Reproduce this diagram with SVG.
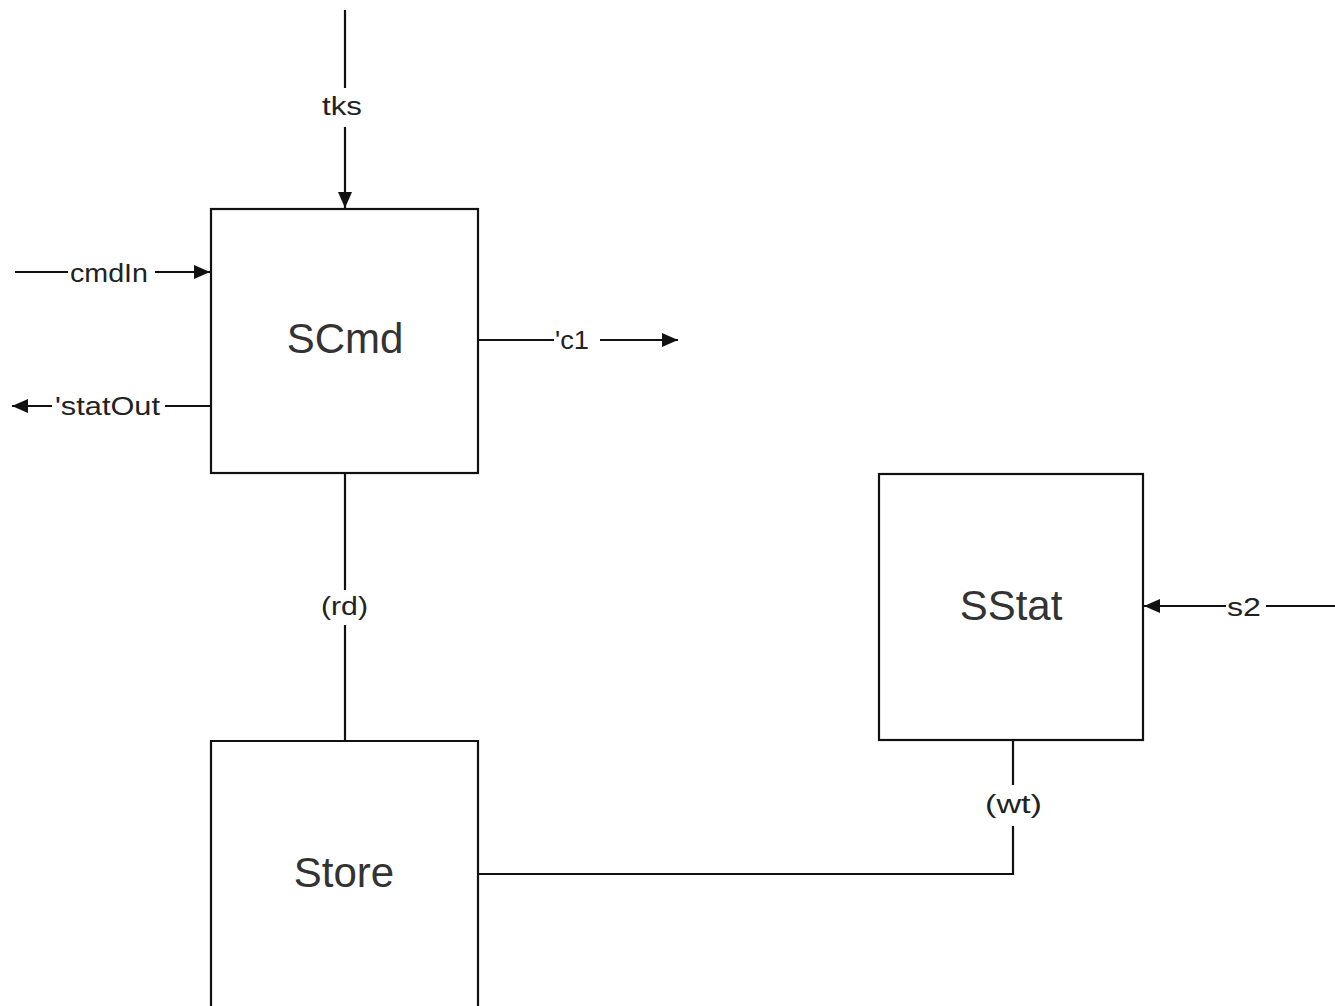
<svg xmlns="http://www.w3.org/2000/svg" width="1335" height="1006" viewBox="0 0 1335 1006">
<style>
.box{fill:#fff;stroke:#111;stroke-width:2.2}
.ln{stroke:#111;stroke-width:2.2;fill:none}
.big{font-family:"Liberation Sans",Arial,sans-serif;font-size:42px;fill:#333;text-anchor:middle}
.lbl{font-family:"Liberation Sans",Arial,sans-serif;font-size:25px;fill:#222}
</style>
<defs>
<marker id="ah" markerUnits="userSpaceOnUse" markerWidth="20" markerHeight="16" refX="18" refY="7" orient="auto">
<path d="M2,0 L18,7 L2,14 Z" fill="#111"/>
</marker>
</defs>
<rect width="1335" height="1006" fill="#fff"/>
<g id="connectors">
<line class="ln" x1="345" y1="10" x2="345" y2="88"/>
<line class="ln" x1="345" y1="127" x2="345" y2="208" marker-end="url(#ah)"/>
<text class="lbl" x="322" y="115" textLength="40" lengthAdjust="spacingAndGlyphs">tks</text>
<line class="ln" x1="15" y1="272" x2="68" y2="272"/>
<line class="ln" x1="155" y1="272" x2="210" y2="272" marker-end="url(#ah)"/>
<text class="lbl" x="70" y="282" textLength="78" lengthAdjust="spacingAndGlyphs">cmdIn</text>
<line class="ln" x1="211" y1="406" x2="165" y2="406"/>
<line class="ln" x1="52" y1="406" x2="12" y2="406" marker-end="url(#ah)"/>
<text class="lbl" x="55" y="415" textLength="105" lengthAdjust="spacingAndGlyphs">'statOut</text>
<line class="ln" x1="478" y1="340" x2="554" y2="340"/>
<line class="ln" x1="600" y1="340" x2="678" y2="340" marker-end="url(#ah)"/>
<text class="lbl" x="555" y="349" textLength="34" lengthAdjust="spacingAndGlyphs">'c1</text>
<line class="ln" x1="345" y1="473" x2="345" y2="590"/>
<line class="ln" x1="345" y1="625" x2="345" y2="741"/>
<text class="lbl" x="321" y="615" textLength="47" lengthAdjust="spacingAndGlyphs">(rd)</text>
<line class="ln" x1="1335" y1="606" x2="1266" y2="606"/>
<line class="ln" x1="1226" y1="606" x2="1144" y2="606" marker-end="url(#ah)"/>
<text class="lbl" x="1227" y="616" textLength="34" lengthAdjust="spacingAndGlyphs">s2</text>
<line class="ln" x1="1013" y1="740" x2="1013" y2="785"/>
<polyline class="ln" points="1013,826 1013,874 478,874"/>
<text class="lbl" x="985" y="813" textLength="57" lengthAdjust="spacingAndGlyphs">(wt)</text>
</g>
<g id="SCmd">
<rect class="box" x="211" y="209" width="267" height="264"/>
<text class="big" x="345" y="353">SCmd</text>
</g>
<g id="SStat">
<rect class="box" x="879" y="474" width="264" height="266"/>
<text class="big" x="1011" y="620">SStat</text>
</g>
<g id="Store">
<path class="ln" d="M211,1010 L211,741 L478,741 L478,1010"/>
<text class="big" x="344" y="887">Store</text>
</g>
</svg>
